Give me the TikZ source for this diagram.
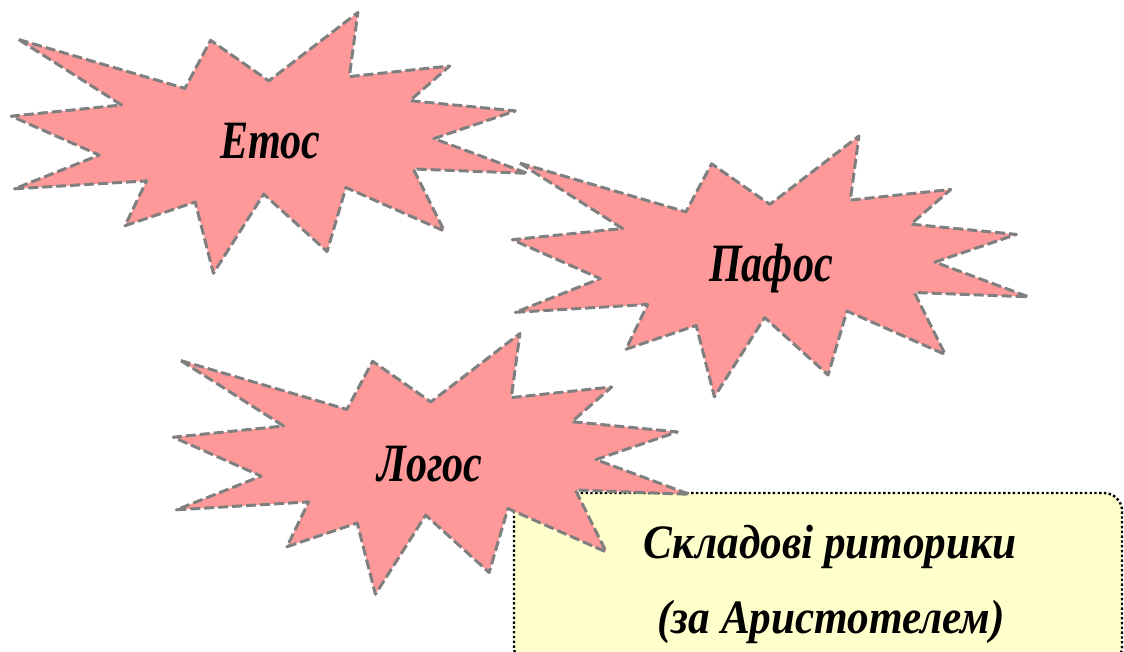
\documentclass[tikz,border=0pt]{standalone}
\usepackage{fontspec}
\setmainfont{Liberation Serif}
\newfontfamily\burstfont[FakeStretch=0.78]{Liberation Serif}
\newfontfamily\notefont[FakeStretch=0.9]{Liberation Serif}
\definecolor{burstpink}{HTML}{FF9999}
\definecolor{burstgray}{HTML}{7F7F7F}
\definecolor{noteyellow}{HTML}{FFFFCC}

\tikzset{
  burstline/.style={fill=burstpink, draw=burstgray, line width=3pt,
    dash pattern=on 10pt off 4pt, line join=round},
  burstlabel/.style={font=\burstfont\bfseries\itshape\fontsize{54}{64}\selectfont,
    anchor=base, inner sep=0pt},
  notebox/.style={fill=noteyellow, draw=black, line width=2.4pt,
    dash pattern=on 2.4pt off 2.4pt, rounded corners=18pt},
  notetext/.style={font=\notefont\bfseries\itshape\fontsize{48}{56}\selectfont,
    anchor=base, inner sep=0pt},
  burst/.pic={
    \draw[burstline] (18.8,39.6) -- (184.9,88.4) -- (210.6,40.3) -- (268.8,80.9)
      -- (357.9,12.5) -- (349.3,76.6) -- (449.7,66.0) -- (409.9,100.7)
      -- (515.4,110.9) -- (433.9,138.6) -- (527.4,173.3) -- (413.4,169.0)
      -- (444.2,231.0) -- (345.9,187.5) -- (327.1,251.5) -- (263.7,194.1)
      -- (213.4,273.3) -- (195.2,202.0) -- (125.0,225.7) -- (146.6,180.9)
      -- (14.4,188.8) -- (99.3,155.1) -- (11.3,116.2) -- (121.6,105.0) -- cycle;
  }
}

\begin{document}
\begin{tikzpicture}[x=1pt,y=-1pt]
  \useasboundingbox (0,0) rectangle (1124,652);
  \clip (0,0) rectangle (1124,652);
  % the three bursts, the note box sits under the last one
  \pic at (0,0) {burst};
  \pic at (501,123.5) {burst};
  \draw[notebox] (514,493) rectangle (1122,665);
  \pic at (162,321) {burst};
  \node[burstlabel] (etos) at (270.5,158.5) {Етос};
  \node[burstlabel] (pafos) at (771,282) {Пафос};
  \node[burstlabel] (logos) at (430,481) {Логос};
  \node[notetext] (note1) at (830,558) {Складові риторики};
  \node[notetext] (note2) at (831,633) {(за Аристотелем)};
\end{tikzpicture}
\end{document}
